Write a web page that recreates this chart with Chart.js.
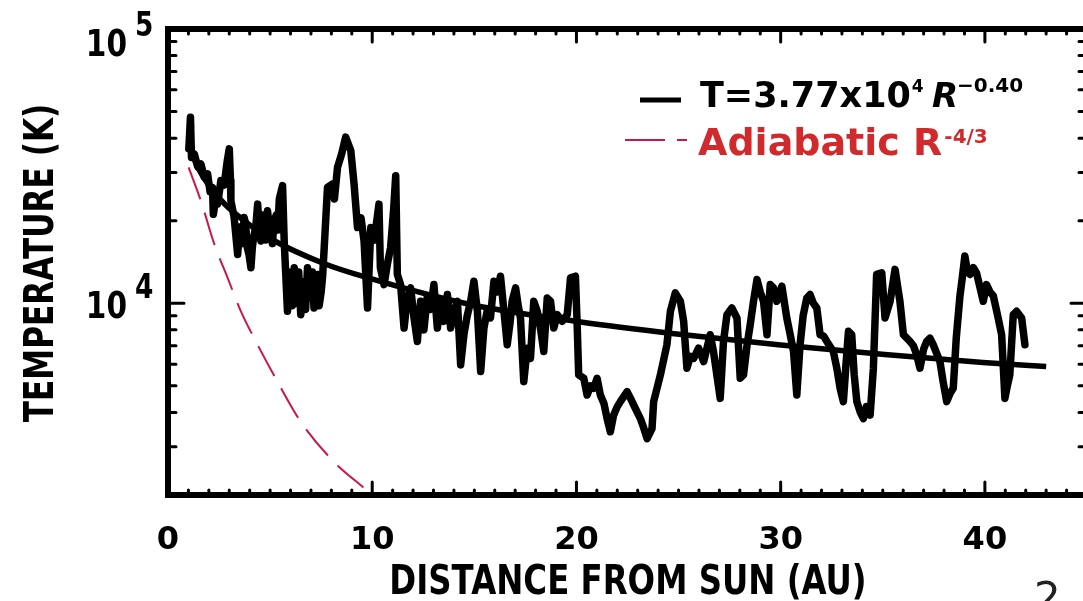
<!DOCTYPE html>
<html>
<head>
<meta charset="utf-8">
<script src="https://cdn.jsdelivr.net/npm/chart.js@4/dist/chart.umd.min.js"></script>
<style>
  html, body { margin: 0; padding: 0; background: #fff; overflow: hidden; }
  #wrap { width: 1100px; height: 601px; }
</style>
</head>
<body>
<div id="wrap"><canvas id="c" width="1100" height="601"></canvas></div>
<script>
// Voyager 2 solar-wind proton temperature vs heliocentric distance
const distanceAU = [
  1.02, 1.10, 1.15, 1.29, 1.45, 1.61, 1.78, 1.94,
  2.06, 2.18, 2.22, 2.35, 2.43, 2.59, 2.75, 2.90,
  3.00, 3.06, 3.08, 3.24, 3.41, 3.48, 3.55, 3.64,
  3.73, 3.80, 3.88, 3.97, 4.06, 4.13, 4.20, 4.30,
  4.39, 4.47, 4.55, 4.62, 4.70, 4.78, 4.87, 4.95,
  5.03, 5.11, 5.20, 5.30, 5.38, 5.45, 5.61, 5.69,
  5.85, 5.93, 6.00, 6.09, 6.18, 6.24, 6.30, 6.40,
  6.50, 6.57, 6.65, 6.74, 6.83, 6.90, 7.00, 7.07,
  7.15, 7.24, 7.32, 7.40, 7.50, 7.57, 7.64, 7.81,
  8.05, 8.15, 8.30, 8.50, 8.70, 8.95, 9.11, 9.28,
  9.45, 9.60, 9.77, 9.93, 10.10, 10.33, 10.40, 10.58,
  10.75, 10.90, 11.05, 11.15, 11.23, 11.39, 11.56, 11.72,
  11.88, 12.05, 12.21, 12.37, 12.53, 12.70, 12.86, 13.02,
  13.19, 13.35, 13.51, 13.68, 13.84, 14.00, 14.17, 14.33,
  14.49, 14.65, 14.82, 14.98, 15.15, 15.31, 15.47, 15.63,
  15.79, 15.96, 16.12, 16.28, 16.45, 16.61, 16.75, 16.85,
  17.02, 17.15, 17.26, 17.42, 17.59, 17.75, 17.91, 18.08,
  18.25, 18.40, 18.57, 18.73, 18.89, 19.06, 19.30, 19.55,
  19.71, 19.95, 20.03, 20.11, 20.36, 20.52, 20.70, 20.85,
  21.01, 21.17, 21.35, 21.50, 21.66, 21.82, 22.00, 22.15,
  22.48, 22.65, 22.80, 23.13, 23.30, 23.46, 23.70, 23.78,
  24.11, 24.43, 24.60, 24.84, 25.09, 25.25, 25.41, 25.58,
  25.74, 25.98, 26.23, 26.55, 26.71, 27.04, 27.20, 27.37,
  27.61, 27.86, 28.02, 28.18, 28.35, 28.51, 28.67, 28.84,
  29.00, 29.16, 29.33, 29.49, 29.65, 29.81, 30.06, 30.30,
  30.45, 30.63, 30.79, 30.95, 31.10, 31.28, 31.44, 31.60,
  31.77, 31.93, 32.10, 32.26, 32.58, 32.75, 32.91, 33.07,
  33.20, 33.32, 33.48, 33.60, 33.73, 33.90, 34.05, 34.20,
  34.38, 34.54, 34.70, 34.95, 35.11, 35.36, 35.60, 35.84,
  36.01, 36.33, 36.50, 36.66, 36.82, 37.00, 37.15, 37.31,
  37.47, 37.80, 37.95, 38.13, 38.30, 38.45, 38.60, 38.78,
  38.90, 39.02, 39.15, 39.27, 39.43, 39.59, 39.75, 39.92,
  40.08, 40.25, 40.41, 40.65, 40.82, 40.98, 41.10, 41.22,
  41.39, 41.55, 41.80, 41.96
];
const temperatureK = [
  36500, 47700, 34000, 35000, 31500, 32200, 28800, 29600,
  25500, 26450, 21100, 24500, 23000, 28000, 27000, 33000,
  36560, 28000, 23640, 20530, 15070, 17500, 19000, 16500,
  20530, 19500, 16000, 15000, 13470, 16000, 17500, 19000,
  22990, 18000, 16870, 21000, 20500, 17000, 21730, 19500,
  18500, 16500, 19970, 21000, 18500, 24000, 26840, 16870,
  9350, 13000, 12500, 9800, 13470, 12000, 10000, 13000,
  9090, 10500, 12000, 9500, 13470, 12500, 10500, 13000,
  9610, 10000, 12740, 9800, 11000, 12500, 15500, 26450,
  27230, 24000, 31310, 35000, 40330, 36050, 27230, 18880,
  20500, 16870, 9610, 18880, 17000, 22990, 13470, 11700,
  14000, 15950, 22000, 29200, 12740, 11700, 8120, 10500,
  11380, 8800, 7260, 10170, 8000, 10660, 9500, 11700,
  8120, 10170, 8590, 10760, 8120, 9300, 10170, 5960,
  7680, 9000, 10170, 12040, 9350, 5640, 8120, 9400,
  8840, 12040, 11000, 12550, 9350, 7060, 8500, 10170,
  11380, 9800, 8840, 5180, 6860, 6300, 10170, 9350,
  8000, 6670, 10450, 10170, 8120, 9090, 8600, 9090,
  12380, 12550, 8590, 5480, 5330, 4630, 5000, 4900,
  5330, 4630, 4300, 3800, 3400, 3910, 4200, 4380,
  4760, 4500, 4260, 3800, 3500, 3210, 3490, 4380,
  5480, 7060, 9350, 10910, 10170, 8590, 5800, 6400,
  6300, 6860, 6130, 7680, 6670, 4500, 7260, 9090,
  9610, 8840, 5330, 5480, 7000, 8360, 10170, 12210,
  11000, 10170, 7680, 11700, 11380, 10170, 11540, 8840,
  7800, 6670, 4630, 7060, 9000, 10450, 10760, 10000,
  9610, 7680, 7600, 7260, 6670, 5800, 4900, 4380,
  6000, 7900, 7680, 5500, 4380, 4000, 3800, 4200,
  3910, 5800, 12740, 12910, 8840, 10170, 13290, 10170,
  7680, 7260, 7000, 6490, 5800, 6800, 7260, 7460,
  7060, 6130, 5200, 4380, 4700, 4900, 7500, 10660,
  12500, 14870, 13000, 12740, 13500, 12910, 11500, 10170,
  11700, 11000, 10660, 8840, 7680, 4500, 5000, 5480,
  9090, 9350, 8840, 7060
];

// Power-law fit curve
const fitAU = [1, 1.5, 2, 2.75, 4, 5.2, 7.6, 9.6, 14.8, 20.2, 24.8, 30, 35.1, 39.9, 43];
const fitK  = [37700, 30900, 26900, 23100, 19300, 16900, 14000, 12500, 9900, 8550, 7750, 7050, 6500, 6080, 5880];

// Adiabatic cooling curve
const adiabaticAU = [1.01, 1.61, 2.27, 2.92, 3.57, 4.22, 5.36, 6.5, 8.13, 9.44, 10.0];
const adiabaticK  = [31290, 23640, 16410, 12380, 9350, 7460, 5180, 3700, 2640, 2170, 2010];

// Axis ticks
const xMajorTicks = [0, 10, 20, 30, 40];
const yDecadeExponents = [4, 5];

const X_MIN = 0, X_MAX = 45, Y_MIN = 2000, Y_MAX = 100000;
const FONT = '"DejaVu Sans"';
const LINE_RED = '#c9164d';
const TEXT_RED = '#d12a2c';

function pts(xs, ys) { return xs.map((x, i) => ({ x: x, y: ys[i] })); }

function drawText(ctx, s, x, y, size, o) {
  o = o || {};
  ctx.save();
  ctx.font = (o.italic ? 'italic ' : '') + (o.weight || 'bold') + ' ' + size + 'px ' + FONT;
  ctx.fillStyle = o.color || '#000';
  ctx.textAlign = o.align || 'left';
  ctx.textBaseline = 'alphabetic';
  ctx.translate(x, y);
  if (o.rotate) ctx.rotate(o.rotate);
  ctx.scale(o.sx || 1, 1);
  ctx.fillText(s, 0, 0);
  const w = ctx.measureText(s).width * (o.sx || 1);
  ctx.restore();
  return w;
}

const framePlugin = {
  id: 'frame',
  afterDatasetsDraw(chart) {
    const ctx = chart.ctx;
    const a = chart.chartArea;
    const xs = chart.scales.x, ys = chart.scales.y;
    ctx.save();
    ctx.strokeStyle = '#000';
    ctx.lineCap = 'round';

    // x ticks on bottom and top edges
    ctx.lineWidth = 3;
    for (let v = 1; v < X_MAX; v++) {
      const px = xs.getPixelForValue(v);
      const len = (v % 10 === 0) ? 13 : 5;
      ctx.beginPath();
      ctx.moveTo(px, a.bottom); ctx.lineTo(px, a.bottom - len);
      ctx.moveTo(px, a.top); ctx.lineTo(px, a.top + len);
      ctx.stroke();
    }
    // log y ticks on left and right edges
    for (let dec = 1000; dec < Y_MAX; dec *= 10) {
      for (let m = 1; m <= 9; m++) {
        const v = m * dec;
        if (v <= Y_MIN || v >= Y_MAX) continue;
        const py = ys.getPixelForValue(v);
        const len = (m === 1) ? 16 : 8;
        ctx.beginPath();
        ctx.moveTo(a.left, py); ctx.lineTo(a.left + len, py);
        ctx.moveTo(a.right, py); ctx.lineTo(a.right - len, py);
        ctx.stroke();
      }
    }
    // plot frame
    ctx.lineWidth = 6;
    ctx.lineCap = 'butt';
    ctx.strokeRect(a.left, a.top, a.right - a.left, a.bottom - a.top);
    ctx.restore();

    // x tick labels
    xMajorTicks.forEach(v => {
      drawText(ctx, String(v), xs.getPixelForValue(v), 549, 32, { align: 'center' });
    });
    // y tick labels as powers of ten
    yDecadeExponents.forEach(e => {
      const py = Math.max(ys.getPixelForValue(Math.pow(10, e)), 41);
      drawText(ctx, '10', 127, py + 15, 37, { align: 'right', sx: 0.8 });
      drawText(ctx, String(e), 135, py - 5, 33, { sx: 0.8 });
    });

    // axis titles
    drawText(ctx, 'DISTANCE FROM SUN (AU)', 628, 594, 41, { align: 'center', sx: 0.79 });
    drawText(ctx, 'TEMPERATURE (K)', 53, 263, 41, { align: 'center', sx: 0.76, rotate: -Math.PI / 2 });

    // legend
    ctx.save();
    ctx.strokeStyle = '#000';
    ctx.lineWidth = 5;
    ctx.beginPath(); ctx.moveTo(640, 100); ctx.lineTo(681, 100); ctx.stroke();
    ctx.strokeStyle = LINE_RED;
    ctx.lineWidth = 2;
    ctx.beginPath();
    ctx.moveTo(625, 140); ctx.lineTo(665, 140);
    ctx.moveTo(677, 140); ctx.lineTo(687, 140);
    ctx.stroke();
    ctx.restore();

    let x = 700;
    x += drawText(ctx, 'T=3.77x10', x, 107, 35);
    drawText(ctx, '4', x + 1, 92, 17);
    drawText(ctx, 'R', 932, 107, 34, { italic: true });
    drawText(ctx, '\u22120.40', 957, 92, 20);

    let x2 = 698;
    x2 += drawText(ctx, 'Adiabatic R', x2, 155, 38, { color: TEXT_RED });
    drawText(ctx, '-4/3', x2 + 2, 143, 20, { color: TEXT_RED });

    // slide page number
    drawText(ctx, '2', 1034, 612, 42, { weight: 'normal', color: '#222' });
  }
};

new Chart(document.getElementById('c'), {
  type: 'line',
  data: {
    datasets: [
      {
        label: 'Temperature',
        data: pts(distanceAU, temperatureK),
        borderColor: '#000',
        borderWidth: 7.5,
        borderJoinStyle: 'round',
        borderCapStyle: 'round',
        pointRadius: 0,
        tension: 0,
        order: 2
      },
      {
        label: 'T=3.77x10^4 R^-0.40',
        data: pts(fitAU, fitK),
        borderColor: '#000',
        borderWidth: 5.5,
        cubicInterpolationMode: 'monotone',
        pointRadius: 0,
        order: 1
      },
      {
        label: 'Adiabatic R^-4/3',
        data: pts(adiabaticAU, adiabaticK),
        borderColor: LINE_RED,
        borderWidth: 2,
        borderDash: [34, 14],
        cubicInterpolationMode: 'monotone',
        pointRadius: 0,
        order: 0
      }
    ]
  },
  options: {
    responsive: false,
    devicePixelRatio: 1,
    animation: false,
    layout: { padding: { left: 168, top: 29, right: 13, bottom: 106 } },
    plugins: { legend: { display: false }, tooltip: { enabled: false } },
    scales: {
      x: { type: 'linear', min: X_MIN, max: X_MAX, display: false },
      y: { type: 'logarithmic', min: Y_MIN, max: Y_MAX, display: false }
    }
  },
  plugins: [framePlugin]
});
</script>
</body>
</html>
